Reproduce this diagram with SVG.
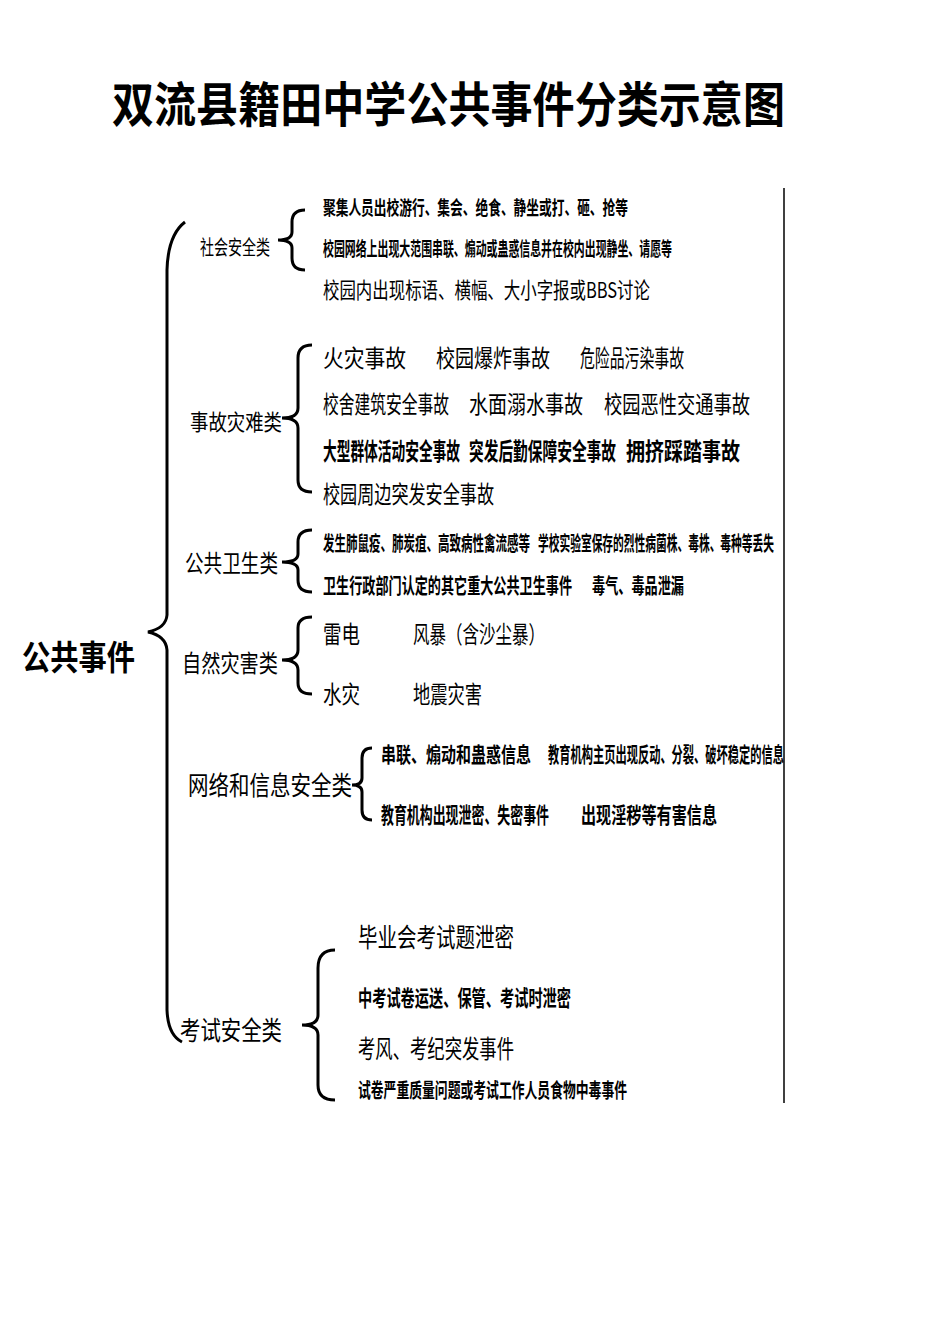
<svg xmlns="http://www.w3.org/2000/svg" width="950" height="1344" viewBox="0 0 950 1344">
<style>
text{font-family:"Noto Sans CJK SC","Noto Sans CJK TC",serif;fill:#000}
.b{font-weight:bold}
.br{fill:none;stroke:#000;stroke-width:3}
</style>
<rect width="950" height="1344" fill="#fff"/>
<text x="112" y="122" font-size="48" class="b" textLength="673" lengthAdjust="spacingAndGlyphs">双流县籍田中学公共事件分类示意图</text>
<g id="connectors">
<line x1="784" y1="188" x2="784" y2="1103" stroke="#000" stroke-width="1.5"/>
<path class="br" d="M185,222 Q168,235 167,270 L167,615 Q166,628 148,632 Q166,636 167,650 L167,1010 Q168,1035 182,1042"/>
<path class="br" d="M305,210 Q292,210 292,222 L292,232 Q292,240 278,240 Q292,240 292,248 L292,258 Q292,270 305,270"/>
<path class="br" d="M312,345 Q298,345 298,358 L298,408 Q298,418 282,418 Q298,418 298,428 L298,480 Q298,492 312,492"/>
<path class="br" d="M312,530 Q298,530 298,542 L298,554 Q298,562 282,562 Q298,562 298,570 L298,580 Q298,592 312,592"/>
<path class="br" d="M312,617 Q298,617 298,628 L298,650 Q298,660 282,660 Q298,660 298,670 L298,683 Q298,694 312,694"/>
<path class="br" d="M372,748 Q362,748 362,758 L362,778 Q362,785 352,785 Q362,785 362,792 L362,810 Q362,820 372,820"/>
<path class="br" d="M335,950 Q318,950 318,968 L318,1015 Q318,1025 302,1025 Q318,1025 318,1035 L318,1085 Q318,1100 335,1100"/>
</g>
<g id="root"><text x="22" y="670" font-size="34" class="b" textLength="113" lengthAdjust="spacingAndGlyphs">公共事件</text></g>
<g id="social">
<text x="200" y="255" font-size="20" textLength="70" lengthAdjust="spacingAndGlyphs">社会安全类</text>
<text x="323" y="215" font-size="19" class="b" textLength="305" lengthAdjust="spacingAndGlyphs">聚集人员出校游行、集会、绝食、静坐或打、砸、抢等</text>
<text x="323" y="256" font-size="19" class="b" textLength="349" lengthAdjust="spacingAndGlyphs">校园网络上出现大范围串联、煽动或蛊惑信息并在校内出现静坐、请愿等</text>
<text x="323" y="298" font-size="22" textLength="327" lengthAdjust="spacingAndGlyphs">校园内出现标语、横幅、大小字报或BBS讨论</text>
</g>
<g id="accident">
<text x="190" y="430" font-size="22" textLength="92" lengthAdjust="spacingAndGlyphs">事故灾难类</text>
<text x="323" y="367" font-size="24" textLength="83" lengthAdjust="spacingAndGlyphs">火灾事故</text>
<text x="436" y="367" font-size="24" textLength="114" lengthAdjust="spacingAndGlyphs">校园爆炸事故</text>
<text x="580" y="367" font-size="24" textLength="104" lengthAdjust="spacingAndGlyphs">危险品污染事故</text>
<text x="323" y="413" font-size="24" textLength="126" lengthAdjust="spacingAndGlyphs">校舍建筑安全事故</text>
<text x="469" y="413" font-size="24" textLength="114" lengthAdjust="spacingAndGlyphs">水面溺水事故</text>
<text x="604" y="413" font-size="24" textLength="146" lengthAdjust="spacingAndGlyphs">校园恶性交通事故</text>
<text x="323" y="460" font-size="24" class="b" textLength="137" lengthAdjust="spacingAndGlyphs">大型群体活动安全事故</text>
<text x="469" y="460" font-size="24" class="b" textLength="147" lengthAdjust="spacingAndGlyphs">突发后勤保障安全事故</text>
<text x="626" y="460" font-size="24" class="b" textLength="114" lengthAdjust="spacingAndGlyphs">拥挤踩踏事故</text>
<text x="323" y="503" font-size="24" textLength="171" lengthAdjust="spacingAndGlyphs">校园周边突发安全事故</text>
</g>
<g id="health">
<text x="185" y="572" font-size="24" textLength="93" lengthAdjust="spacingAndGlyphs">公共卫生类</text>
<text x="323" y="551" font-size="20" class="b" textLength="207" lengthAdjust="spacingAndGlyphs">发生肺鼠疫、肺炭疽、高致病性禽流感等</text>
<text x="538" y="551" font-size="20" class="b" textLength="236" lengthAdjust="spacingAndGlyphs">学校实验室保存的烈性病菌株、毒株、毒种等丢失</text>
<text x="323" y="593" font-size="21" class="b" textLength="249" lengthAdjust="spacingAndGlyphs">卫生行政部门认定的其它重大公共卫生事件</text>
<text x="592" y="593" font-size="21" class="b" textLength="92" lengthAdjust="spacingAndGlyphs">毒气、毒品泄漏</text>
</g>
<g id="nature">
<text x="182" y="672" font-size="24" textLength="96" lengthAdjust="spacingAndGlyphs">自然灾害类</text>
<text x="323" y="643" font-size="24" textLength="37" lengthAdjust="spacingAndGlyphs">雷电</text>
<text x="413" y="643" font-size="24" textLength="132" lengthAdjust="spacingAndGlyphs">风暴（含沙尘暴）</text>
<text x="323" y="703" font-size="24" textLength="37" lengthAdjust="spacingAndGlyphs">水灾</text>
<text x="413" y="703" font-size="24" textLength="69" lengthAdjust="spacingAndGlyphs">地震灾害</text>
</g>
<g id="network">
<text x="188" y="795" font-size="26" textLength="164" lengthAdjust="spacingAndGlyphs">网络和信息安全类</text>
<text x="381" y="762" font-size="21" class="b" textLength="150" lengthAdjust="spacingAndGlyphs">串联、煽动和蛊惑信息</text>
<text x="548" y="762" font-size="21" class="b" textLength="236" lengthAdjust="spacingAndGlyphs">教育机构主页出现反动、分裂、破坏稳定的信息</text>
<text x="381" y="823" font-size="22" class="b" textLength="168" lengthAdjust="spacingAndGlyphs">教育机构出现泄密、失密事件</text>
<text x="581" y="823" font-size="22" class="b" textLength="136" lengthAdjust="spacingAndGlyphs">出现淫秽等有害信息</text>
</g>
<g id="exam">
<text x="180" y="1040" font-size="26" textLength="102" lengthAdjust="spacingAndGlyphs">考试安全类</text>
<text x="358" y="947" font-size="26" textLength="156" lengthAdjust="spacingAndGlyphs">毕业会考试题泄密</text>
<text x="358" y="1006" font-size="22" class="b" textLength="213" lengthAdjust="spacingAndGlyphs">中考试卷运送、保管、考试时泄密</text>
<text x="358" y="1058" font-size="25" textLength="156" lengthAdjust="spacingAndGlyphs">考风、考纪突发事件</text>
<text x="358" y="1098" font-size="20" class="b" textLength="269" lengthAdjust="spacingAndGlyphs">试卷严重质量问题或考试工作人员食物中毒事件</text>
</g>
</svg>
